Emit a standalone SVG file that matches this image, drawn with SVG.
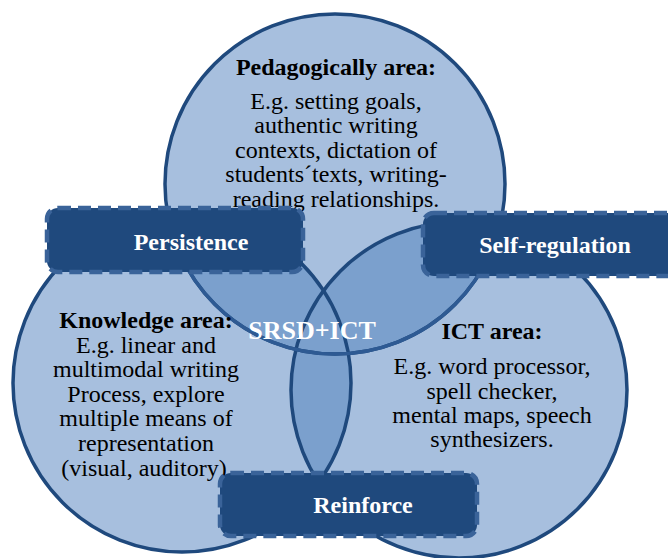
<svg xmlns="http://www.w3.org/2000/svg" width="668" height="558" viewBox="0 0 668 558">
<style>
.fill{fill:#A7BFDE}
.ov{fill:#7BA0CD}
.edge{fill:none;stroke:#1F497D;stroke-width:3.5}
.edge2{fill:none;stroke:#2E5A93;stroke-width:3.5}
.t{font-family:"Liberation Serif","Times New Roman",serif;font-size:24px;fill:#000;text-anchor:middle}
.b{font-weight:bold}
.w{fill:#fff;font-weight:bold}
.box{fill:#1F497D;stroke:#3A6399;stroke-width:4.5;stroke-dasharray:13 7}
</style>
<defs>
<clipPath id="cTop"><circle cx="335" cy="184" r="170"/></clipPath>
<clipPath id="cLeft"><circle cx="182" cy="383" r="169"/></clipPath>
<clipPath id="cRight"><circle cx="459" cy="390" r="168"/></clipPath>
<clipPath id="cLR"><circle cx="182" cy="383" r="169"/><circle cx="459" cy="390" r="168"/></clipPath>
</defs>
<g id="circles">
<circle class="fill" cx="335" cy="184" r="170"/>
<circle class="fill" cx="182" cy="383" r="169"/>
<circle class="fill" cx="459" cy="390" r="168"/>
<circle class="ov" cx="335" cy="184" r="170" clip-path="url(#cLeft)"/>
<circle class="ov" cx="335" cy="184" r="170" clip-path="url(#cRight)"/>
<circle class="ov" cx="182" cy="383" r="169" clip-path="url(#cRight)"/>
<circle class="edge" cx="335" cy="184" r="170"/>
<circle class="edge" cx="182" cy="383" r="169"/>
<circle class="edge" cx="459" cy="390" r="168"/>
<circle class="edge2" cx="335" cy="184" r="170" clip-path="url(#cLR)"/>
</g>
<g id="pedagogical">
<text class="t b" x="336" y="75">Pedagogically area:</text>
<text class="t" x="336" y="109">E.g. setting goals,</text>
<text class="t" x="336" y="133">authentic writing</text>
<text class="t" x="336" y="158">contexts, dictation of</text>
<text class="t" x="336" y="182">students´texts, writing-</text>
<text class="t" x="336" y="207">reading relationships.</text>
</g>
<g id="knowledge">
<text class="t b" x="146" y="328">Knowledge area:</text>
<text class="t" x="146" y="353">E.g. linear and</text>
<text class="t" x="146" y="377">multimodal writing</text>
<text class="t" x="146" y="402">Process, explore</text>
<text class="t" x="146" y="426">multiple means of</text>
<text class="t" x="146" y="451">representation</text>
<text class="t" x="144" y="476">(visual, auditory)</text>
</g>
<g id="ict">
<text class="t b" x="492" y="339">ICT area:</text>
<text class="t" x="492" y="374">E.g. word processor,</text>
<text class="t" x="492" y="399">spell checker,</text>
<text class="t" x="492" y="423">mental maps, speech</text>
<text class="t" x="492" y="447">synthesizers.</text>
</g>
<g id="center">
<text class="t w" x="312" y="339" style="font-size:26px">SRSD+ICT</text>
</g>
<g id="persistence">
<rect class="box" x="47" y="208" width="256" height="64" rx="11"/>
<text class="t w" x="191" y="250">Persistence</text>
</g>
<g id="self-regulation">
<rect class="box" x="423" y="213" width="262" height="63" rx="11"/>
<text class="t w" x="555" y="253">Self-regulation</text>
</g>
<g id="reinforce">
<rect class="box" x="220" y="473" width="257" height="63" rx="11"/>
<text class="t w" x="363" y="513">Reinforce</text>
</g>
</svg>
